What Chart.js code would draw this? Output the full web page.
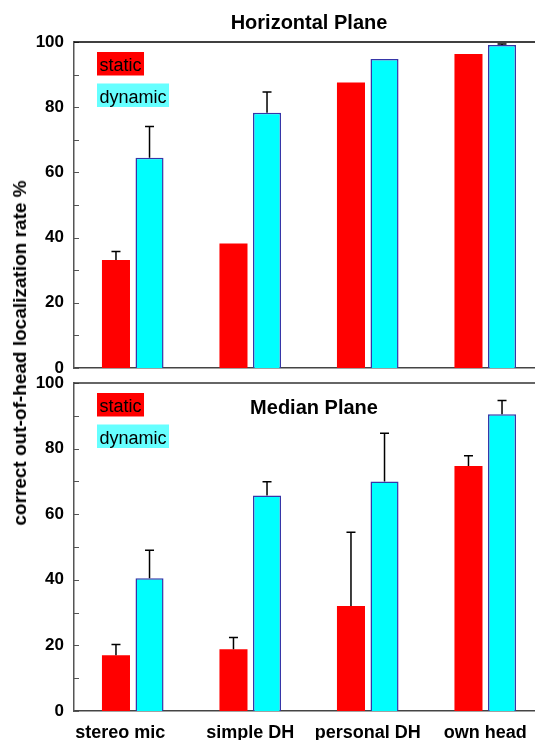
<!DOCTYPE html>
<html>
<head>
<meta charset="utf-8">
<script src="https://cdn.jsdelivr.net/npm/chart.js@4.4.0/dist/chart.umd.min.js"></script>
<style>
  html, body { margin: 0; padding: 0; background: #fff; overflow: hidden; }
  body { width: 535px; height: 740px; position: relative; }
  .panel { position: absolute; left: 0; }
  #top { top: 0; }
  #bottom { top: 370px; }
  #ylabel {
    position: absolute; left: 20px; top: 353px;
    transform: translate(-50%, -50%) rotate(-90deg);
    font: bold 19px 'Liberation Sans', Arial, sans-serif;
    white-space: nowrap; color: #000;
  }
</style>
</head>
<body>
<div class="panel" id="top"><canvas id="hChart" width="545" height="380"></canvas></div>
<div class="panel" id="bottom"><canvas id="mChart" width="545" height="370"></canvas></div>
<div id="ylabel">correct out-of-head localization rate %</div>
<script>
// categories along x
const categories = ['stereo mic', 'simple DH', 'personal DH', 'own head'];
const yTicks = [0, 20, 40, 60, 80, 100];

// horizontal plane (top panel)
const hStatic = [33.1, 38.2, 87.6, 96.3];
const hStaticErr = [2.6, 0, 0, 0];
const hDynamic = [64.5, 78.3, 94.8, 99.1];
const hDynamicErr = [9.6, 6.4, 0, 0.3];

// median plane (bottom panel)
const mStatic = [17.0, 18.8, 32.0, 74.7];
const mStaticErr = [3.3, 3.6, 22.5, 3.1];
const mDynamic = [40.5, 65.7, 70.0, 90.5];
const mDynamicErr = [8.5, 4.2, 14.7, 4.2];

Chart.defaults.font.family = "'Liberation Sans', Arial, sans-serif";
Chart.defaults.color = '#000';

// error bars (upper only) drawn from each bar top
const errorBars = {
  id: 'errorBars',
  afterDatasetsDraw(chart) {
    const { ctx, scales: { y } } = chart;
    ctx.save();
    ctx.strokeStyle = '#000';
    ctx.lineWidth = 1.5;
    chart.data.datasets.forEach((ds, di) => {
      const meta = chart.getDatasetMeta(di);
      ds.errors.forEach((e, i) => {
        if (!e) return;
        const bar = meta.data[i];
        const top = y.getPixelForValue(ds.data[i] + e);
        ctx.beginPath();
        ctx.moveTo(bar.x, bar.y);
        ctx.lineTo(bar.x, top);
        ctx.moveTo(bar.x - 4.5, top);
        ctx.lineTo(bar.x + 4.5, top);
        ctx.stroke();
      });
    });
    ctx.restore();
  }
};

// frame top line, inward ticks, legend boxes, inner title
const panelDecor = {
  id: 'panelDecor',
  afterDraw(chart, args, opts) {
    const { ctx, chartArea: a, scales: { y } } = chart;
    ctx.save();
    ctx.strokeStyle = '#555';
    ctx.lineWidth = 1;
    for (let v = 0; v <= 100; v += 10) {
      const py = Math.round(y.getPixelForValue(v)) + 0.5;
      ctx.beginPath();
      ctx.moveTo(a.left, py);
      ctx.lineTo(a.left + 5, py);
      ctx.stroke();
    }
    ctx.strokeStyle = opts.topColor;
    ctx.lineWidth = 1.5;
    ctx.beginPath();
    ctx.moveTo(a.left, a.top);
    ctx.lineTo(a.right, a.top);
    ctx.stroke();

    ctx.font = "18px 'Liberation Sans', Arial, sans-serif";
    ctx.textBaseline = 'alphabetic';
    ctx.textAlign = 'left';
    opts.legend.forEach((item, k) => {
      const bx = a.left + 23;
      const by = a.top + 10 + k * 31.5;
      const w = ctx.measureText(item.text).width + 5;
      ctx.fillStyle = item.bg;
      ctx.fillRect(bx, by, w, 23.5);
      ctx.fillStyle = '#000';
      ctx.fillText(item.text, bx + 2.5, by + 19);
    });

    if (opts.title) {
      ctx.font = "bold 20px 'Liberation Sans', Arial, sans-serif";
      ctx.textAlign = 'center';
      ctx.fillStyle = '#000';
      ctx.fillText(opts.title, (a.left + a.right) / 2 + 5, a.top + 30.5);
    }
    ctx.restore();
  }
};

function makeChart(id, staticVals, staticErr, dynVals, dynErr, cfg) {
  const ctx = document.getElementById(id).getContext('2d');
  return new Chart(ctx, {
    type: 'bar',
    data: {
      labels: categories,
      datasets: [
        {
          label: 'static',
          data: staticVals,
          errors: staticErr,
          backgroundColor: '#ff0000',
          borderWidth: 0,
          categoryPercentage: 0.571,
          barPercentage: 0.836,
        },
        {
          label: 'dynamic',
          data: dynVals,
          errors: dynErr,
          backgroundColor: '#00ffff',
          borderColor: '#3636a8',
          borderWidth: 1.5,
          categoryPercentage: 0.571,
          barPercentage: 0.836,
        },
      ],
    },
    options: {
      responsive: false,
      animation: false,
      layout: { padding: cfg.padding },
      plugins: {
        legend: { display: false },
        tooltip: { enabled: false },
        title: cfg.chartTitle,
        panelDecor: {
          topColor: cfg.topColor,
          title: cfg.innerTitle,
          legend: [
            { text: 'static', bg: '#ff0000' },
            { text: 'dynamic', bg: '#66ffff' },
          ],
        },
      },
      scales: {
        x: {
          grid: { display: false, drawTicks: false },
          border: { display: true, color: '#444', width: 1.5 },
          ticks: {
            display: cfg.showX,
            padding: 11,
            font: { size: 18, weight: 'bold' },
            color: '#000',
            maxRotation: 0,
            autoSkip: false,
            callback: (v, i) => (i === 0 ? categories[i] + '     ' : categories[i]),
          },
          afterFit: (s) => {
            s.height = cfg.xHeight;
            s.paddingLeft = 0;
            s.paddingRight = 0;
          },
        },
        y: {
          min: 0,
          max: 100,
          grid: { display: false, drawTicks: false },
          border: { display: true, color: '#555', width: 1.5 },
          afterBuildTicks: (s) => { s.ticks = yTicks.map((v) => ({ value: v })); },
          ticks: {
            padding: 10,
            font: { size: 17, weight: 'bold' },
            color: '#000',
          },
          afterFit: (s) => {
            s.width = 74;
            s.paddingTop = 0;
            s.paddingBottom = 0;
          },
        },
      },
    },
    plugins: [errorBars, panelDecor],
  });
}

makeChart('hChart', hStatic, hStaticErr, hDynamic, hDynamicErr, {
  padding: { top: 0, bottom: 12, left: 0, right: 1 },
  chartTitle: {
    display: true,
    text: 'Horizontal Plane',
    fullSize: false,
    font: { size: 20, weight: 'bold' },
    color: '#000',
    padding: { top: 11, bottom: 7 },
  },
  topColor: '#000',
  innerTitle: null,
  showX: false,
  xHeight: 0,
});

makeChart('mChart', mStatic, mStaticErr, mDynamic, mDynamicErr, {
  padding: { top: 13, bottom: 0, left: 0, right: 1 },
  chartTitle: { display: false },
  topColor: '#333',
  innerTitle: 'Median Plane',
  showX: true,
  xHeight: 29,
});
</script>
</body>
</html>
